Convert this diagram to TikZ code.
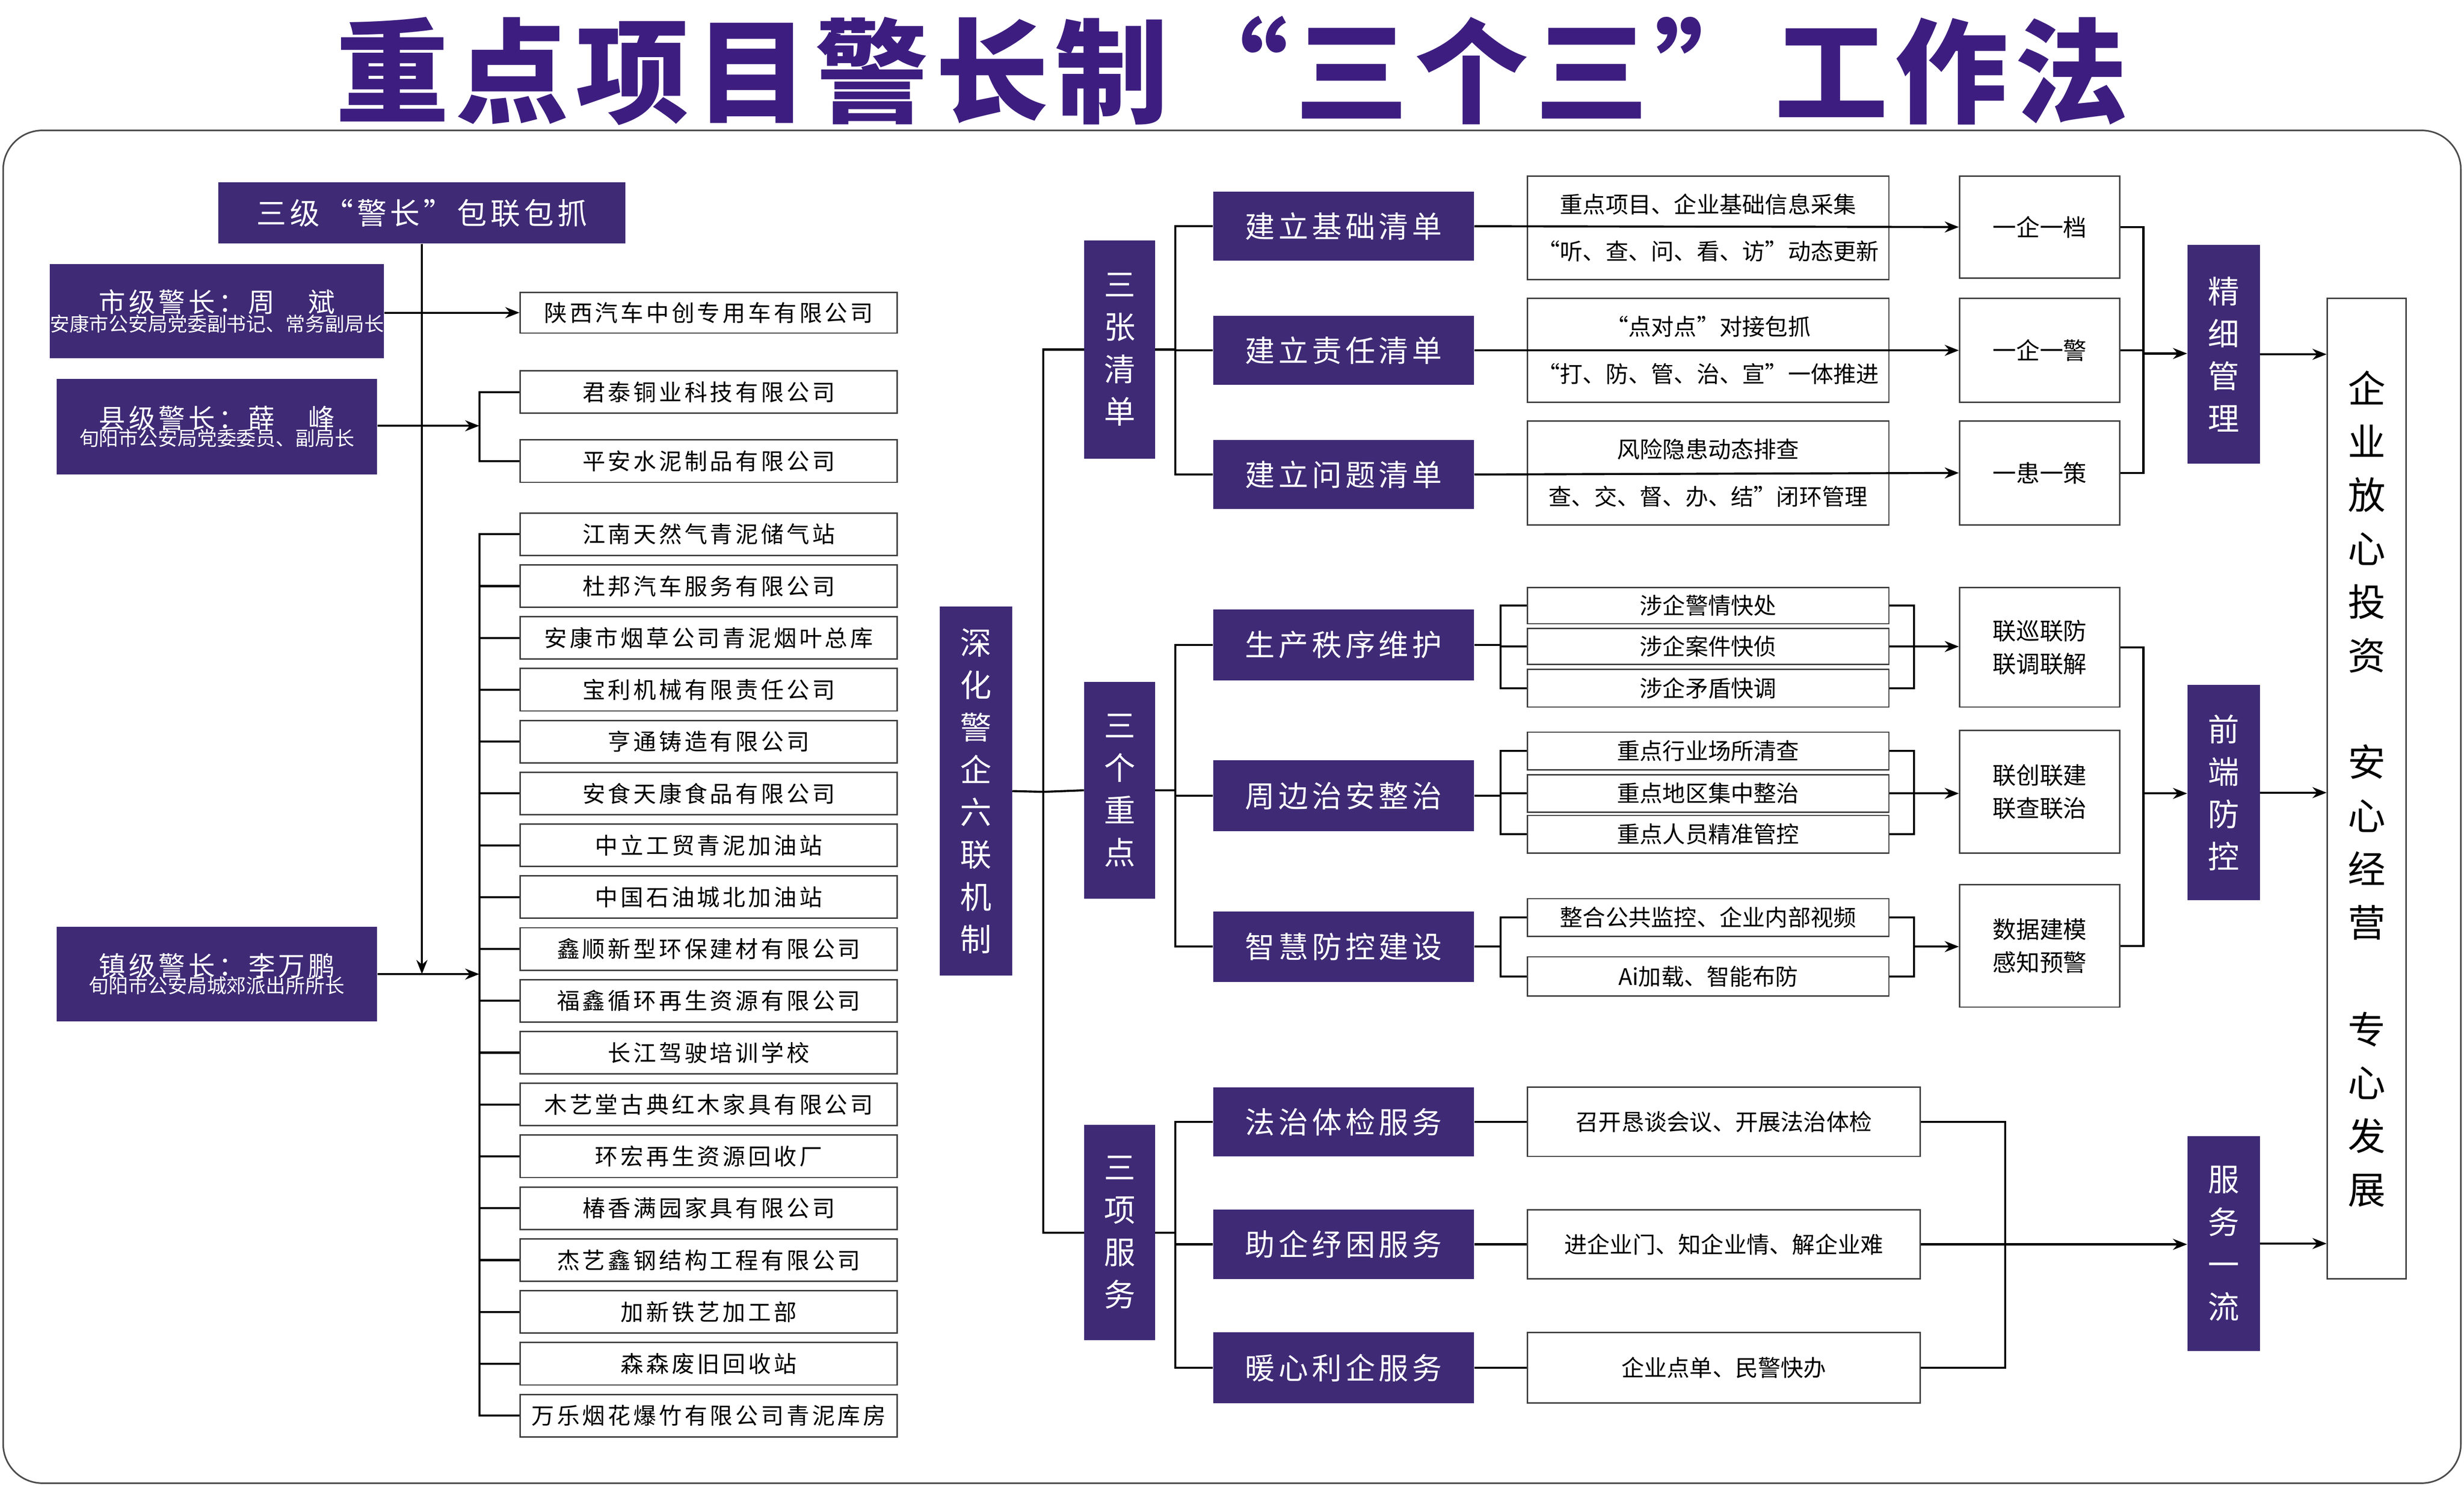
\documentclass[tikz,border=0pt]{standalone}
\usepackage{fontspec}
\setmainfont{Noto Sans CJK SC}
\newfontfamily\cjkls[LetterSpace=12]{Noto Sans CJK SC}
\newfontfamily\cjkt[LetterSpace=6]{Noto Sans CJK SC}
\usetikzlibrary{arrows.meta}
\definecolor{pur}{HTML}{3E2A75}
\definecolor{tit}{HTML}{3D1E80}
\newcommand{\bx}[7]{\node[#2,minimum width={(#5-#3)*1pt},minimum height={(#6-#4)*1pt},inner sep=0pt] (#1) at ({(#3+#5)/2},{(#4+#6)/2}) {#7};}
\begin{document}
\begin{tikzpicture}[x=1pt,y=-1pt,
  pbox/.style={fill=pur,text=white,draw=none,align=center},
  wbox/.style={draw=black!75,line width=0.9pt,fill=white,align=center},
  ln/.style={line width=1.3pt,black},
  arr/.style={ln,-{Stealth[length=9pt,width=7pt]}},
  vt/.style={pbox,font=\fontsize{20}{27}\selectfont},
  sb/.style={pbox,font=\cjkls\fontsize{19}{22}\selectfont},
  cb/.style={wbox,font=\cjkls\fontsize{14.5}{16}\selectfont},
  tb/.style={wbox,font=\fontsize{14.5}{16}\selectfont},
  rb/.style={wbox,font=\fontsize{15}{21}\selectfont}]
\useasboundingbox (0,0) rectangle (1568,945.6);
\fill[white] (0,0) rectangle (1568,945.6);
\node[text=tit,font=\cjkt\bfseries\fontsize{72}{80}\selectfont] (title) at (784,45) {重点项目警长制“三个三”工作法};
\draw[black!70,line width=1pt,rounded corners=25pt] (2,83) rectangle (1566,944);
% left
\bx{hdr}{sb}{139}{116}{398}{155}{三级“警长”包联包抓}
\bx{shi}{pbox}{36}{168}{240}{228}{{\cjkls\fontsize{17}{22}\selectfont 市级警长：周　斌}\\[-1pt]{\fontsize{12.5}{15}\selectfont 安康市公安局党委副书记、常务副局长}}
\bx{xian}{pbox}{36}{241}{240}{302}{{\cjkls\fontsize{17}{22}\selectfont 县级警长：薛　峰}\\[-1pt]{\fontsize{12.5}{15}\selectfont 旬阳市公安局党委委员、副局长}}
\bx{zhen}{pbox}{36}{590}{240}{650}{{\cjkls\fontsize{17}{22}\selectfont 镇级警长：李万鹏}\\[-1pt]{\fontsize{12.5}{15}\selectfont 旬阳市公安局城郊派出所所长}}
\bx{sx}{cb}{331}{186}{571}{212}{陕西汽车中创专用车有限公司}
\bx{jt}{cb}{331}{236}{571}{263}{君泰铜业科技有限公司}
\bx{pa}{cb}{331}{280}{571}{307}{平安水泥制品有限公司}
\foreach \t [count=\i] in {江南天然气青泥储气站,杜邦汽车服务有限公司,安康市烟草公司青泥烟叶总库,宝利机械有限责任公司,亨通铸造有限公司,安食天康食品有限公司,中立工贸青泥加油站,中国石油城北加油站,鑫顺新型环保建材有限公司,福鑫循环再生资源有限公司,长江驾驶培训学校,木艺堂古典红木家具有限公司,环宏再生资源回收厂,椿香满园家具有限公司,杰艺鑫钢结构工程有限公司,加新铁艺加工部,森森废旧回收站,万乐烟花爆竹有限公司青泥库房}{
  \pgfmathsetmacro\cy{340+33*(\i-1)}
  \node[cb,minimum width=240pt,minimum height=27pt,inner sep=0pt] (c\i) at (451,\cy) {\t};
}
\draw[arr] (hdr.south) -- (hdr.south |- zhen.east);
\draw[arr] (shi.east |- sx.west) -- (sx.west);
\coordinate (xb) at (305,271);
\draw[arr] (xian.east |- xb) -- (xb);
\draw[ln] (jt.west) -| (xb) |- (pa.west);
\coordinate (zb) at (305,620);
\draw[arr] (zhen.east |- zb) -- (zb);
\draw[ln] (c1.west) -| (zb) |- (c18.west);
\foreach \i in {2,...,17}{\draw[ln] (c\i.west) -- (c\i.west -| zb);}
% middle
\bx{sh}{vt}{598}{386}{644}{621}{深\\化\\警\\企\\六\\联\\机\\制}
\bx{g1}{vt}{690}{153}{735}{292}{三\\张\\清\\单}
\bx{g2}{vt}{690}{434}{735}{572}{三\\个\\重\\点}
\bx{g3}{vt}{690}{716}{735}{853}{三\\项\\服\\务}
\coordinate (mb) at (664,504);
\draw[ln] (sh.east) -- (mb);
\draw[ln] (g1.west) -| (mb) |- (g3.west);
\draw[ln] (mb) -- (g2.west);
\bx{a1}{sb}{772}{122}{938}{166}{建立基础清单}
\bx{a2}{sb}{772}{201}{938}{245}{建立责任清单}
\bx{a3}{sb}{772}{280}{938}{324}{建立问题清单}
\bx{b1}{sb}{772}{388}{938}{433}{生产秩序维护}
\bx{b2}{sb}{772}{484}{938}{529}{周边治安整治}
\bx{b3}{sb}{772}{580}{938}{625}{智慧防控建设}
\bx{d1}{sb}{772}{692}{938}{736}{法治体检服务}
\bx{d2}{sb}{772}{770}{938}{814}{助企纾困服务}
\bx{d3}{sb}{772}{848}{938}{893}{暖心利企服务}
\foreach \g/\a/\c in {g1/a1/a3,g2/b1/b3,g3/d1/d3}{
  \draw[ln] (\g.east) -- (\g.east -| 748,0) ;
  \draw[ln] (\a.west) -| (748,0 |- \g.east) |- (\c.west);
}
\draw[ln] (748,0 |- a2.west) -- (a2.west);
\draw[ln] (748,0 |- b2.west) -- (b2.west);
\draw[ln] (748,0 |- d2.west) -- (d2.west);
% list section
\bx{t1}{tb}{972}{112}{1202}{178}{重点项目、企业基础信息采集\\[14pt]“听、查、问、看、访”动态更新}
\bx{t2}{tb}{972}{190}{1202}{256}{“点对点”对接包抓\\[14pt]“打、防、管、治、宣”一体推进}
\bx{t3}{tb}{972}{268}{1202}{334}{风险隐患动态排查\\[14pt]查、交、督、办、结”闭环管理}
\bx{r1}{rb}{1247}{112}{1349}{177}{一企一档}
\bx{r2}{rb}{1247}{190}{1349}{256}{一企一警}
\bx{r3}{rb}{1247}{268}{1349}{334}{一患一策}
\draw[arr] (a1.east) -- (r1.west);
\draw[arr] (a2.east) -- (r2.west);
\draw[arr] (a3.east) -- (r3.west);
\bx{p1}{vt}{1392}{156}{1438}{295}{精\\细\\管\\理}
\bx{p2}{vt}{1392}{436}{1438}{573}{前\\端\\防\\控}
\bx{p3}{vt}{1392}{723}{1438}{860}{服\\务\\一\\流}
\coordinate (k1) at (1364,225);
\draw[ln] (r1.east) -| (k1) |- (r3.east);
\draw[ln] (r2.east) -- (r2.east -| k1);
\draw[arr] (k1) -- (p1.west |- k1);
% key points
\bx{s1}{tb}{972}{374}{1202}{397}{涉企警情快处}
\bx{s2}{tb}{972}{400}{1202}{423}{涉企案件快侦}
\bx{s3}{tb}{972}{426}{1202}{450}{涉企矛盾快调}
\bx{s4}{tb}{972}{466}{1202}{490}{重点行业场所清查}
\bx{s5}{tb}{972}{493}{1202}{517}{重点地区集中整治}
\bx{s6}{tb}{972}{519}{1202}{543}{重点人员精准管控}
\bx{s7}{tb}{972}{572}{1202}{596}{整合公共监控、企业内部视频}
\bx{s8}{tb}{972}{609}{1202}{634}{Ai加载、智能布防}
\bx{q1}{rb}{1247}{374}{1349}{450}{联巡联防\\联调联解}
\bx{q2}{rb}{1247}{465}{1349}{543}{联创联建\\联查联治}
\bx{q3}{rb}{1247}{563}{1349}{641}{数据建模\\感知预警}
\draw[ln] (b1.east) -- (955,0 |- b1.east);
\draw[ln] (s1.west) -| (955,0 |- s1.west) |- (s3.west);
\draw[ln] (955,0 |- s2.west) -- (s2.west);
\draw[ln] (s1.east) -| (1218,0 |- s1.east) |- (s3.east);
\draw[arr] (s2.east) -- (q1.west |- s2.east);
\draw[ln] (b2.east) -- (955,0 |- b2.east);
\draw[ln] (s4.west) -| (955,0 |- s4.west) |- (s6.west);
\draw[ln] (955,0 |- s5.west) -- (s5.west);
\draw[ln] (s4.east) -| (1218,0 |- s4.east) |- (s6.east);
\draw[arr] (s5.east) -- (q2.west |- s5.east);
\draw[ln] (b3.east) -- (955,0 |- b3.east);
\draw[ln] (s7.west) -| (955,0 |- s7.west) |- (s8.west);
\draw[ln] (s7.east) -| (1218,0 |- s7.east) |- (s8.east);
\draw[arr] (1218,0 |- b3.east) -- (q3.west |- b3.east);
\coordinate (k2) at (1364,505);
\draw[ln] (q1.east) -| (k2) |- (q3.east);
\draw[arr] (k2) -- (p2.west |- k2);
% services
\bx{v1}{tb}{972}{692}{1222}{736}{召开恳谈会议、开展法治体检}
\bx{v2}{tb}{972}{770}{1222}{814}{进企业门、知企业情、解企业难}
\bx{v3}{tb}{972}{848}{1222}{893}{企业点单、民警快办}
\draw[ln] (d1.east) -- (v1.west);
\draw[ln] (d2.east) -- (v2.west);
\draw[ln] (d3.east) -- (v3.west);
\coordinate (k3) at (1276,792);
\draw[ln] (v1.east) -| (k3) |- (v3.east);
\draw[arr] (v2.east) -- (p3.west |- v2.east);
% final
\bx{fin}{wbox,font=\fontsize{24}{34}\selectfont}{1481}{190}{1531}{814}{企\\业\\放\\心\\投\\资\\[34pt]安\\心\\经\\营\\[34pt]专\\心\\发\\展}
\draw[arr] (p1.east) -- (fin.west |- p1.east);
\draw[arr] (p2.east) -- (fin.west |- p2.east);
\draw[arr] (p3.east) -- (fin.west |- p3.east);
\end{tikzpicture}
\end{document}
